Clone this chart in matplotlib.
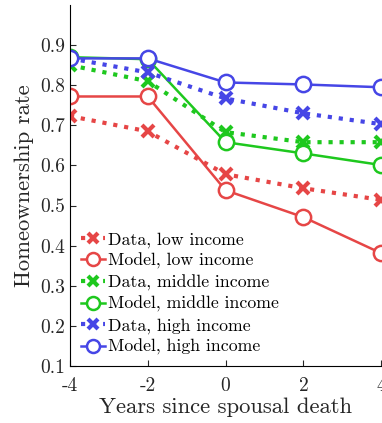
import numpy as np
import matplotlib
matplotlib.use('Agg')
import matplotlib.pyplot as plt

plt.rcParams['font.family'] = 'cmr10'
plt.rcParams['axes.unicode_minus'] = False
plt.rcParams['mathtext.fontset'] = 'cm'

# years relative to spousal death
years = [-4, -2, 0, 2, 4]

# homeownership rates
data_low = [0.723, 0.685, 0.578, 0.543, 0.514]
model_low = [0.772, 0.772, 0.538, 0.471, 0.381]
data_mid = [0.850, 0.810, 0.683, 0.658, 0.658]
model_mid = [0.870, 0.865, 0.658, 0.630, 0.601]
data_high = [0.867, 0.832, 0.767, 0.730, 0.703]
model_high = [0.867, 0.867, 0.807, 0.802, 0.795]

red = '#E64646'
green = '#1EC81E'
blue = '#4646E6'

fig = plt.figure(figsize=[3.82, 4.23], dpi=100)
ax = fig.add_axes([0.183, 0.135, 0.815, 0.853])

def data_line(y, c, lab):
    ax.plot(years, y, ':', color=c, lw=3, marker='x', ms=8, mew=3, label=lab)

def model_line(y, c, lab):
    ax.plot(years, y, '-', color=c, lw=1.8, marker='o', ms=11, mew=1.8,
            mfc='white', label=lab)

data_line(data_low, red, 'Data, low income')
model_line(model_low, red, 'Model, low income')
data_line(data_mid, green, 'Data, middle income')
model_line(model_mid, green, 'Model, middle income')
data_line(data_high, blue, 'Data, high income')
model_line(model_high, blue, 'Model, high income')

ax.set_xlim(-4, 4)
ax.set_ylim(0.1, 1.0)
ax.set_xticks([-4, -2, 0, 2, 4])
ax.set_yticks(np.arange(0.1, 0.95, 0.1))
ax.set_yticklabels(['0.1', '0.2', '0.3', '0.4', '0.5', '0.6', '0.7', '0.8', '0.9'])
ax.tick_params(direction='in', labelsize=14, length=4, colors='#262626')
ax.tick_params(axis='x', pad=8)
ax.spines['top'].set_visible(False)
ax.spines['right'].set_visible(False)
ax.set_xlabel('Years since spousal death', fontsize=16.3, color='#262626', labelpad=2)
ax.set_ylabel('Homeownership rate', fontsize=16.3, color='#262626', labelpad=4)

ax.legend(loc='lower left', frameon=False, fontsize=12.8, handlelength=1.4,
          handletextpad=0.15, labelspacing=0.3, borderaxespad=0.2,
          markerscale=0.85)

plt.savefig('out.png', dpi=100)
